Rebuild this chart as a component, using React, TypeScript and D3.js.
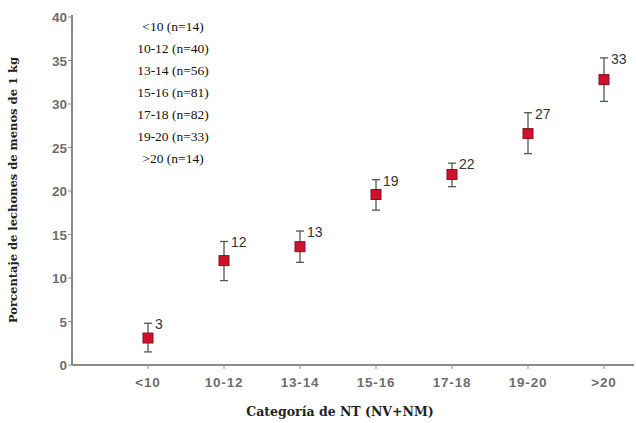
import React, { useRef, useEffect } from 'react';
import * as d3 from 'd3';

const categories = ['<10', '10-12', '13-14', '15-16', '17-18', '19-20', '>20'];
const counts = [14, 40, 56, 81, 82, 33, 14];
const means = [3.1, 12.0, 13.6, 19.6, 21.9, 26.6, 32.8];
const upper = [4.8, 14.2, 15.4, 21.3, 23.2, 29.0, 35.3];
const lower = [1.5, 9.7, 11.8, 17.8, 20.5, 24.3, 30.3];
const labels = ['3', '12', '13', '19', '22', '27', '33'];
const yTicks = [0, 5, 10, 15, 20, 25, 30, 35, 40];

const App = () => {
  const svgRef = useRef<SVGSVGElement>(null);

  useEffect(() => {
    const svg = d3.select(svgRef.current);
    svg.selectAll('*').remove();

    const width = 636;
    const height = 423;
    const axisLeft = 72;
    const axisRight = 634;

    const yScale = d3.scaleLinear().domain([0, 40]).range([365, 17]);
    const xScale = d3.scalePoint().domain(categories).range([148, 604]);

    svg.attr('width', width).attr('height', height);
    svg.append('rect').attr('width', width).attr('height', height).attr('fill', '#fff');

    const grey = '#8a8a8a';
    const tickFont = 'Liberation Sans, Arial, sans-serif';

    // y axis
    svg.append('line')
      .attr('x1', axisLeft).attr('x2', axisLeft)
      .attr('y1', yScale(40) - 2).attr('y2', yScale(0))
      .attr('stroke', grey).attr('stroke-width', 2);

    const yg = svg.append('g');
    yTicks.forEach((t) => {
      yg.append('line')
        .attr('x1', axisLeft - 4).attr('x2', axisLeft)
        .attr('y1', yScale(t)).attr('y2', yScale(t))
        .attr('stroke', grey).attr('stroke-width', 1);
      yg.append('text')
        .attr('x', axisLeft - 5).attr('y', yScale(t) + 5)
        .attr('text-anchor', 'end')
        .attr('font-family', tickFont).attr('font-size', 13.5)
        .attr('font-weight', 'bold')
        .attr('fill', '#6e6e6e')
        .text(t);
    });

    // x axis
    svg.append('line')
      .attr('x1', axisLeft).attr('x2', axisRight)
      .attr('y1', yScale(0)).attr('y2', yScale(0))
      .attr('stroke', grey).attr('stroke-width', 2);

    categories.forEach((c) => {
      const x = xScale(c) as number;
      svg.append('line')
        .attr('x1', x).attr('x2', x)
        .attr('y1', yScale(0)).attr('y2', yScale(0) + 4)
        .attr('stroke', grey).attr('stroke-width', 1);
      svg.append('text')
        .attr('x', x).attr('y', yScale(0) + 22)
        .attr('text-anchor', 'middle')
        .attr('font-family', tickFont).attr('font-size', 13.5)
        .attr('font-weight', 'bold')
        .attr('letter-spacing', 0.8)
        .attr('fill', '#6e6e6e')
        .text(c);
    });

    // error bars, markers and value labels
    const capW = 4;
    categories.forEach((c, i) => {
      const x = xScale(c) as number;
      const g = svg.append('g');
      g.append('line')
        .attr('x1', x).attr('x2', x)
        .attr('y1', yScale(upper[i])).attr('y2', yScale(lower[i]))
        .attr('stroke', '#4d5a4d').attr('stroke-width', 1.3);
      [upper[i], lower[i]].forEach((v) => {
        g.append('line')
          .attr('x1', x - capW).attr('x2', x + capW)
          .attr('y1', yScale(v)).attr('y2', yScale(v))
          .attr('stroke', '#4d5a4d').attr('stroke-width', 1.3);
      });
      g.append('rect')
        .attr('x', x - 5).attr('y', yScale(means[i]) - 5)
        .attr('width', 10).attr('height', 10)
        .attr('fill', '#d0112b').attr('stroke', '#8a1020').attr('stroke-width', 1);
      g.append('text')
        .attr('x', x + 7).attr('y', yScale(upper[i]) + 6)
        .attr('font-family', tickFont).attr('font-size', 14)
        .attr('fill', '#333')
        .text(labels[i]);
    });

    // sample size legend
    const legend = svg.append('g');
    categories.forEach((c, i) => {
      legend.append('text')
        .attr('x', 173).attr('y', 31 + i * 22)
        .attr('text-anchor', 'middle')
        .attr('font-family', 'Liberation Serif, serif').attr('font-size', 13.5)
        .attr('fill', '#111')
        .text(`${c} (n=${counts[i]})`);
    });

    // axis titles
    svg.append('text')
      .attr('transform', `translate(17, ${190}) rotate(-90)`)
      .attr('text-anchor', 'middle')
      .attr('font-family', 'DejaVu Serif, serif').attr('font-size', 11.5)
      .attr('font-weight', 'bold')
      .attr('fill', '#222')
      .text('Porcentaje de lechones de menos de 1 kg');

    svg.append('text')
      .attr('x', 340).attr('y', 416)
      .attr('text-anchor', 'middle')
      .attr('font-family', 'DejaVu Serif, serif').attr('font-size', 12.5)
      .attr('font-weight', 'bold')
      .attr('fill', '#222')
      .text('Categoría de NT (NV+NM)');
  }, []);

  return (
    <div style={{ position: 'absolute', left: 0, top: 0 }}>
      <svg ref={svgRef} style={{ display: 'block' }} />
    </div>
  );
};

export default App;
